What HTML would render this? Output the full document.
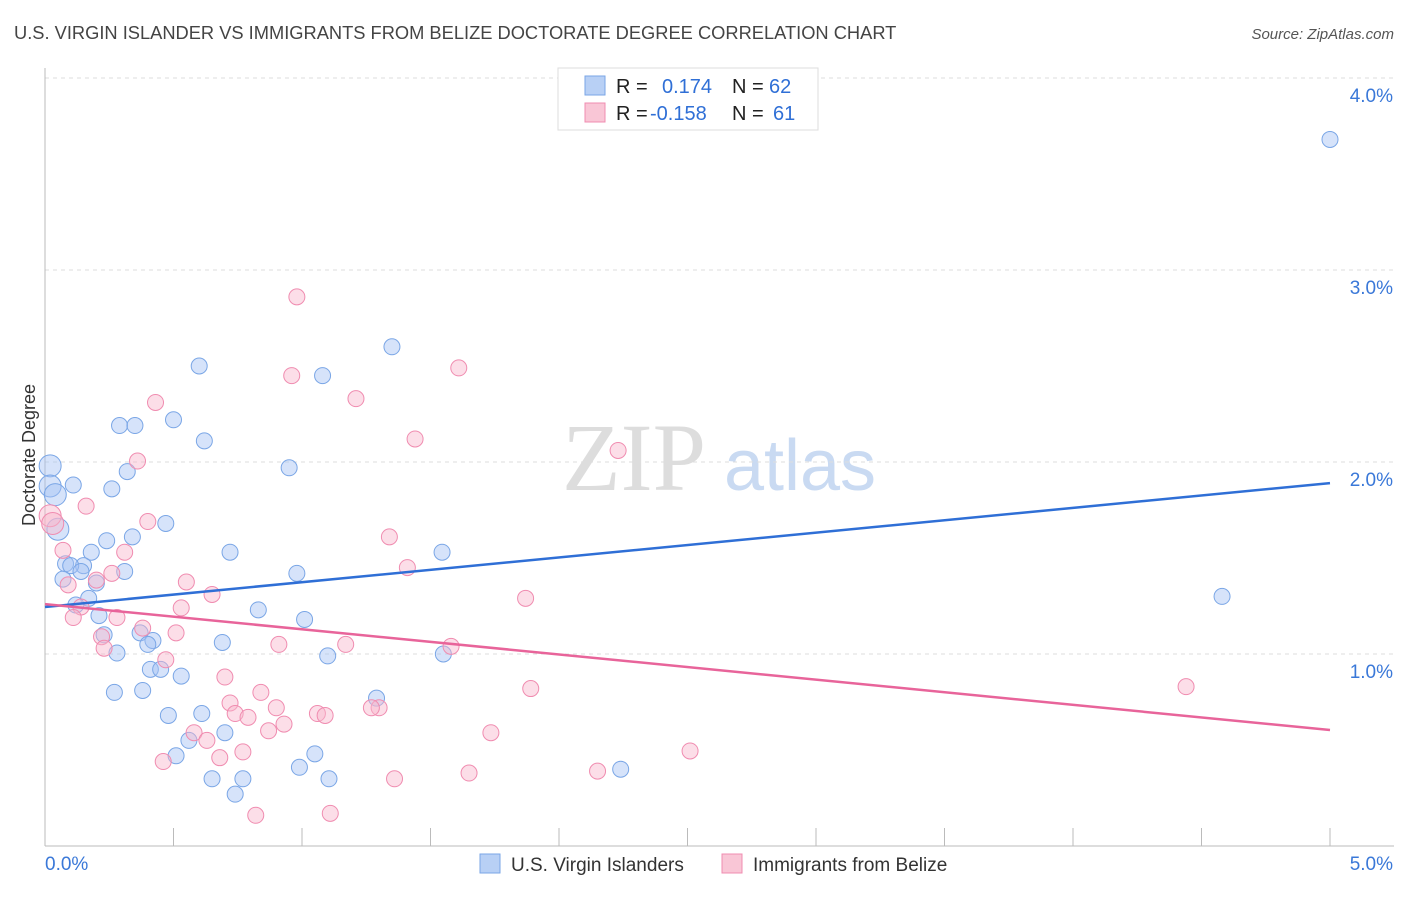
<!DOCTYPE html>
<html><head><meta charset="utf-8"><style>
body{margin:0;background:#fff;font-family:"Liberation Sans",sans-serif;}
</style></head><body>
<svg id="c" width="1406" height="892" xmlns="http://www.w3.org/2000/svg">
<text x="14" y="39" font-size="18.3" fill="#444">U.S. VIRGIN ISLANDER VS IMMIGRANTS FROM BELIZE DOCTORATE DEGREE CORRELATION CHART</text>
<text x="1394" y="39" font-size="15" fill="#555" font-style="italic" text-anchor="end">Source: ZipAtlas.com</text>
<text x="35" y="455" font-size="18" fill="#333" text-anchor="middle" transform="rotate(-90 35 455)">Doctorate Degree</text>
<g>
<text x="634" y="490" font-size="96" fill="#ddd" font-family="Liberation Serif,serif" text-anchor="middle">ZIP</text>
<text x="800" y="490" font-size="72" fill="#c9daf2" text-anchor="middle">atlas</text>
</g>
<g id="grid"></g><g id="axes"></g><g id="pts"></g><g id="lines"></g>
<g>
<rect x="558" y="68" width="260" height="62" fill="#fff" stroke="#ddd"/>
<rect x="585" y="76" width="20" height="19" fill="#b8d0f5" stroke="#7aa6e6"/>
<rect x="585" y="103" width="20" height="19" fill="#f9c6d6" stroke="#f08cb0"/>
<text x="616" y="93" font-size="20" fill="#222">R = </text><text x="662" y="93" font-size="20" fill="#2f6fd6">0.174</text>
<text x="732" y="93" font-size="20" fill="#222">N = </text><text x="769" y="93" font-size="20" fill="#2f6fd6">62</text>
<text x="616" y="120" font-size="20" fill="#222">R = </text><text x="650" y="120" font-size="20" fill="#2f6fd6">-0.158</text>
<text x="732" y="120" font-size="20" fill="#222">N = </text><text x="773" y="120" font-size="20" fill="#2f6fd6">61</text>
</g>
<g>
<rect x="480" y="854" width="20" height="19" fill="#b8d0f5" stroke="#7aa6e6"/>
<text x="511" y="871" font-size="19" fill="#333">U.S. Virgin Islanders</text>
<rect x="722" y="854" width="20" height="19" fill="#f9c6d6" stroke="#f08cb0"/>
<text x="753" y="871" font-size="19" fill="#333">Immigrants from Belize</text>
</g>
</svg>
<script>
const blueX=[5.0,1.35,0.60,1.08,0.50,0.29,0.35,0.62,0.95,0.32,0.02,0.02,0.04,0.11,0.26,0.47,0.05,0.34,0.24,0.18,0.72,1.545,0.08,0.15,0.10,0.14,0.31,0.07,0.20,0.98,0.17,0.12,0.83,0.21,1.01,4.58,0.23,0.37,0.42,0.40,0.69,0.28,1.10,1.55,0.41,0.45,0.53,1.29,0.27,0.38,0.48,0.61,0.70,0.56,0.51,1.05,0.99,0.65,0.77,1.105,2.24,0.74];
const blueY=[3.68,2.60,2.50,2.45,2.22,2.19,2.19,2.11,1.97,1.95,1.98,1.875,1.83,1.88,1.86,1.68,1.65,1.61,1.59,1.53,1.53,1.53,1.47,1.46,1.46,1.43,1.43,1.39,1.37,1.42,1.29,1.255,1.23,1.20,1.18,1.30,1.10,1.11,1.07,1.05,1.06,1.005,0.99,1.00,0.92,0.92,0.885,0.77,0.80,0.81,0.68,0.69,0.59,0.55,0.47,0.48,0.41,0.35,0.35,0.35,0.40,0.27];
const pinkX=[0.98,0.96,1.61,0.43,1.21,1.44,2.23,0.36,0.16,0.02,0.03,0.40,1.34,0.07,0.31,0.09,0.20,0.26,1.41,0.55,0.65,1.87,0.14,0.53,0.11,0.28,0.38,0.51,0.22,0.23,0.91,1.17,1.58,0.47,0.70,1.89,4.44,0.84,0.72,0.90,0.74,0.79,1.06,1.09,1.30,1.27,0.93,0.87,1.735,0.58,0.63,0.77,2.51,0.68,0.46,1.36,1.65,2.15,0.82,1.11];
const pinkY=[2.86,2.45,2.49,2.31,2.33,2.12,2.06,2.005,1.77,1.72,1.68,1.69,1.61,1.54,1.53,1.36,1.385,1.42,1.45,1.375,1.31,1.29,1.245,1.24,1.19,1.19,1.135,1.11,1.09,1.03,1.05,1.05,1.04,0.97,0.88,0.82,0.83,0.80,0.745,0.72,0.69,0.67,0.69,0.68,0.72,0.72,0.635,0.60,0.59,0.59,0.55,0.49,0.495,0.46,0.44,0.35,0.38,0.39,0.16,0.17];
const blueTrend=[1.245,1.89];
const pinkTrend=[1.26,0.604];
const yTicks=[1,2,3,4];
const yTickLabels=["1.0%","2.0%","3.0%","4.0%"];
const xTicks=[0,0.5,1,1.5,2,2.5,3,3.5,4,4.5,5];
const X=v=>45+v*257, Y=v=>846-v*192;
const NS="http://www.w3.org/2000/svg";
function mk(parent,tag,attrs){const e=document.createElementNS(NS,tag);for(const k in attrs)e.setAttribute(k,attrs[k]);document.getElementById(parent).appendChild(e);return e;}
yTicks.forEach((t,i)=>{
 const l=mk('grid','line',{x1:45,x2:1394,y1:Y(t),y2:Y(t),stroke:'#ddd','stroke-dasharray':'4,4'});
 
 
 const tx=mk('axes','text',{x:1393,y:Y(t)+24,'font-size':19,fill:'#3a78d8','text-anchor':'end'});tx.textContent=yTickLabels[i];
 
 
});
const tl=mk('grid','line',{x1:45,x2:1394,y1:78,y2:78,stroke:'#ddd','stroke-dasharray':'4,4'});


const ya=mk('axes','line',{x1:45,x2:45,y1:68,y2:846,stroke:'#bbb'});


const xa=mk('axes','line',{x1:45,x2:1394,y1:846,y2:846,stroke:'#bbb'});


xTicks.forEach(t=>{const l=mk('axes','line',{x1:X(t),x2:X(t),y1:828,y2:846,stroke:'#bbb'});
 
 });
const x0=mk('axes','text',{x:45,y:870,'font-size':19,fill:'#3a78d8'});x0.textContent='0.0%';


const x5=mk('axes','text',{x:1393,y:870,'font-size':19,fill:'#3a78d8','text-anchor':'end'});x5.textContent='5.0%';


function pts(xs,ys,fill,stroke,name){xs.forEach((v,i)=>{const r=(v<0.06&&i<20)?11:8;
 const c=mk('pts','circle',{cx:X(v),cy:Y(ys[i]),r:r,fill:fill,stroke:stroke,'stroke-width':1});
 
 });}
pts(blueX,blueY,'rgba(164,194,244,0.45)','#7aa6e6','point-virgin-islanders');
pts(pinkX,pinkY,'rgba(248,182,204,0.45)','#f08cb0','point-belize');
const bl=mk('lines','line',{x1:X(0),y1:Y(blueTrend[0]),x2:X(5),y2:Y(blueTrend[1]),stroke:'#2f6fd6','stroke-width':2.5});


const pl=mk('lines','line',{x1:X(0),y1:Y(pinkTrend[0]),x2:X(5),y2:Y(pinkTrend[1]),stroke:'#e8649a','stroke-width':2.5});


</script>
</body></html>
